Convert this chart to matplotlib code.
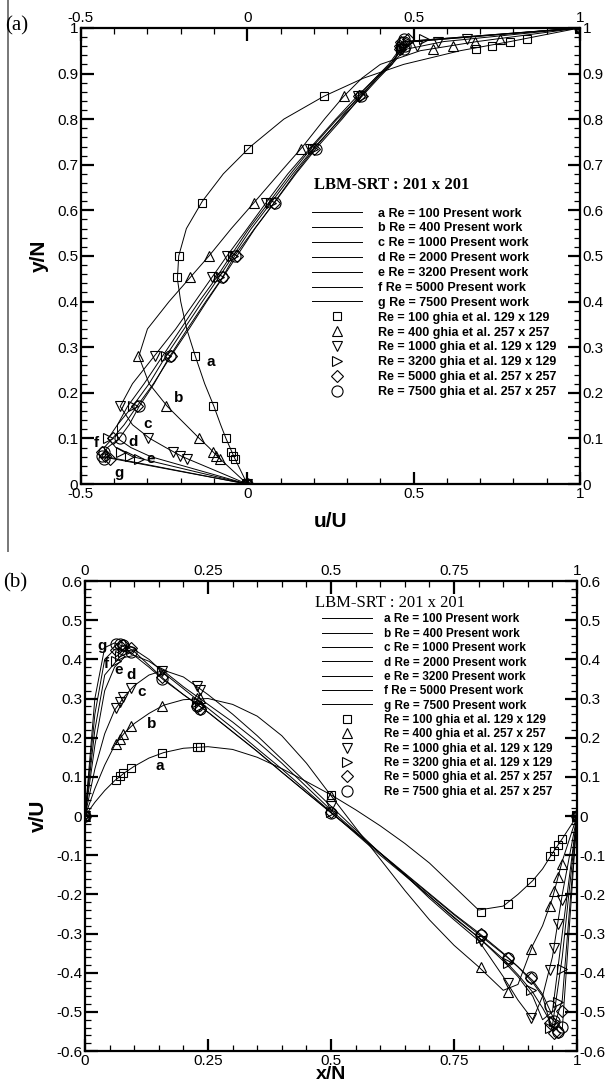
import matplotlib
matplotlib.use('Agg')
import matplotlib.pyplot as plt
from matplotlib.ticker import MultipleLocator, FuncFormatter
from matplotlib.lines import Line2D

plt.rcParams['font.family'] = ['Liberation Sans', 'DejaVu Sans']

# ---------------- data ----------------
line_tags = ['a', 'b', 'c', 'd', 'e', 'f', 'g']
line_re = ['100', '400', '1000', '2000', '3200', '5000', '7500']
ghia_re = ['100', '400', '1000', '3200', '5000', '7500']
ghia_grid = ['129 x 129', '257 x 257', '129 x 129', '129 x 129', '257 x 257', '257 x 257']

# (a) u along the vertical centre line, present work
y_line = [0.0, 0.06, 0.08, 0.10, 0.13, 0.17, 0.22, 0.28, 0.34, 0.40, 0.45, 0.50,
          0.56, 0.62, 0.68, 0.74, 0.80, 0.85, 0.89, 0.92, 0.95, 0.97, 1.0]
u_100 = [0, -0.040, -0.052, -0.064, -0.080, -0.100, -0.128, -0.156, -0.182, -0.200, -0.210, -0.206,
         -0.183, -0.135, -0.072, 0.010, 0.110, 0.230, 0.350, 0.470, 0.640, 0.790, 1.0]
u_400 = [0, -0.089, -0.115, -0.144, -0.185, -0.240, -0.295, -0.326, -0.300, -0.235, -0.175, -0.115,
         -0.048, 0.024, 0.095, 0.167, 0.232, 0.290, 0.345, 0.400, 0.520, 0.690, 1.0]
u_1000 = [0, -0.195, -0.245, -0.293, -0.345, -0.382, -0.345, -0.280, -0.215, -0.157, -0.109, -0.061,
          0.000, 0.060, 0.122, 0.193, 0.266, 0.330, 0.385, 0.425, 0.455, 0.590, 1.0]
u_2000 = [0, -0.290, -0.350, -0.390, -0.390, -0.360, -0.310, -0.255, -0.200, -0.145, -0.095, -0.050,
          0.005, 0.068, 0.130, 0.197, 0.270, 0.340, 0.390, 0.430, 0.460, 0.500, 1.0]
u_3200 = [0, -0.345, -0.395, -0.418, -0.390, -0.345, -0.295, -0.245, -0.190, -0.135, -0.088, -0.043,
          0.012, 0.075, 0.137, 0.204, 0.280, 0.345, 0.395, 0.435, 0.460, 0.500, 1.0]
u_5000 = [0, -0.425, -0.430, -0.405, -0.370, -0.332, -0.282, -0.230, -0.175, -0.122, -0.076, -0.031,
          0.023, 0.084, 0.143, 0.207, 0.278, 0.335, 0.385, 0.430, 0.460, 0.470, 1.0]
u_7500 = [0, -0.437, -0.420, -0.385, -0.355, -0.325, -0.280, -0.233, -0.180, -0.125, -0.077, -0.038,
          0.022, 0.085, 0.146, 0.212, 0.285, 0.342, 0.390, 0.435, 0.470, 0.472, 1.0]

# (a) ghia et al.
ghia_y = [1.0, 0.9766, 0.9688, 0.9609, 0.9531, 0.8516, 0.7344, 0.6172, 0.5, 0.4531,
          0.2813, 0.1719, 0.1016, 0.0703, 0.0625, 0.0547, 0.0]
gu_100 = [1.0, 0.84123, 0.78871, 0.73722, 0.68717, 0.23151, 0.00332, -0.13641, -0.20581, -0.21090,
          -0.15662, -0.10150, -0.06434, -0.04775, -0.04192, -0.03717, 0.0]
gu_400 = [1.0, 0.75837, 0.68439, 0.61756, 0.55892, 0.29093, 0.16256, 0.02135, -0.11477, -0.17119,
          -0.32726, -0.24299, -0.14612, -0.10338, -0.09266, -0.08186, 0.0]
gu_1000 = [1.0, 0.65928, 0.57492, 0.51117, 0.46604, 0.33304, 0.18719, 0.05702, -0.06080, -0.10648,
           -0.27805, -0.38289, -0.29730, -0.22220, -0.20196, -0.18109, 0.0]
gu_3200 = [1.0, 0.53236, 0.48296, 0.46547, 0.46101, 0.34682, 0.19791, 0.07156, -0.04272, -0.08636,
           -0.24427, -0.34323, -0.41933, -0.37827, -0.35344, -0.32407, 0.0]
gu_5000 = [1.0, 0.48223, 0.46120, 0.45992, 0.46036, 0.33556, 0.20087, 0.08183, -0.03039, -0.07404,
           -0.22855, -0.33050, -0.40435, -0.43643, -0.42901, -0.41165, 0.0]
gu_7500 = [1.0, 0.47244, 0.47048, 0.47323, 0.47167, 0.34228, 0.20591, 0.08342, -0.03800, -0.07503,
           -0.23176, -0.32393, -0.38324, -0.43025, -0.43590, -0.43154, 0.0]

# (b) v along the horizontal centre line, present work
x_line = [0.0, 0.02, 0.04, 0.06, 0.08, 0.10, 0.13, 0.16, 0.20, 0.25, 0.30, 0.35, 0.40, 0.45,
          0.50, 0.55, 0.60, 0.65, 0.70, 0.75, 0.80, 0.85, 0.88, 0.91, 0.93, 0.95, 0.97, 1.0]
v_100 = [0, 0.035, 0.065, 0.090, 0.110, 0.127, 0.148, 0.162, 0.173, 0.177, 0.170, 0.150, 0.121, 0.088,
         0.054, 0.016, -0.025, -0.070, -0.120, -0.180, -0.240, -0.230, -0.200, -0.165, -0.135, -0.095, -0.058, 0.0]
v_400 = [0, 0.070, 0.130, 0.180, 0.212, 0.236, 0.262, 0.283, 0.297, 0.300, 0.285, 0.255, 0.205, 0.135,
         0.052, -0.030, -0.110, -0.190, -0.265, -0.330, -0.385, -0.445, -0.430, -0.330, -0.280, -0.210, -0.115, 0.0]
v_1000 = [0, 0.120, 0.210, 0.270, 0.305, 0.333, 0.360, 0.372, 0.355, 0.310, 0.260, 0.205, 0.145, 0.085,
          0.025, -0.035, -0.095, -0.150, -0.210, -0.265, -0.318, -0.410, -0.470, -0.520, -0.460, -0.360, -0.200, 0.0]
v_2000 = [0, 0.180, 0.320, 0.380, 0.405, 0.410, 0.395, 0.370, 0.330, 0.285, 0.240, 0.190, 0.135, 0.075,
          0.015, -0.040, -0.095, -0.150, -0.205, -0.260, -0.310, -0.370, -0.410, -0.460, -0.520, -0.500, -0.300, 0.0]
v_3200 = [0, 0.220, 0.360, 0.390, 0.420, 0.425, 0.400, 0.365, 0.325, 0.275, 0.225, 0.172, 0.120, 0.065,
          0.010, -0.045, -0.100, -0.152, -0.205, -0.258, -0.310, -0.365, -0.405, -0.450, -0.490, -0.535, -0.360, 0.0]
v_5000 = [0, 0.260, 0.400, 0.425, 0.436, 0.420, 0.385, 0.350, 0.310, 0.265, 0.215, 0.165, 0.112, 0.060,
          0.009, -0.042, -0.094, -0.146, -0.198, -0.250, -0.298, -0.350, -0.385, -0.425, -0.460, -0.550, -0.470, 0.0]
v_7500 = [0, 0.300, 0.430, 0.442, 0.432, 0.410, 0.380, 0.347, 0.310, 0.265, 0.215, 0.165, 0.112, 0.060,
          0.008, -0.043, -0.095, -0.148, -0.200, -0.252, -0.302, -0.352, -0.385, -0.420, -0.455, -0.510, -0.545, 0.0]

# (b) ghia et al.
ghia_x = [1.0, 0.9688, 0.9609, 0.9531, 0.9453, 0.9063, 0.8594, 0.8047, 0.5, 0.2344,
          0.2266, 0.1563, 0.0938, 0.0781, 0.0703, 0.0625, 0.0]
gv_100 = [0, -0.05906, -0.07391, -0.08864, -0.10313, -0.16914, -0.22445, -0.24533, 0.05454, 0.17527,
          0.17507, 0.16077, 0.12317, 0.10890, 0.10091, 0.09233, 0]
gv_400 = [0, -0.12146, -0.15663, -0.19254, -0.22847, -0.33827, -0.44993, -0.38598, 0.05186, 0.30174,
          0.30203, 0.28124, 0.22965, 0.20920, 0.19713, 0.18360, 0]
gv_1000 = [0, -0.21388, -0.27669, -0.33714, -0.39188, -0.51550, -0.42665, -0.31966, 0.02526, 0.32235,
           0.33075, 0.37095, 0.32627, 0.30353, 0.29012, 0.27485, 0]
gv_3200 = [0, -0.39017, -0.47425, -0.52357, -0.54053, -0.44307, -0.37401, -0.31184, 0.00999, 0.28188,
           0.29030, 0.37119, 0.42768, 0.41906, 0.40917, 0.39560, 0]
gv_5000 = [0, -0.49774, -0.55069, -0.55408, -0.52876, -0.41442, -0.36214, -0.30018, 0.00945, 0.27280,
           0.28066, 0.35368, 0.42951, 0.43648, 0.43329, 0.42447, 0]
gv_7500 = [0, -0.53858, -0.55216, -0.52347, -0.48590, -0.41050, -0.36213, -0.30448, 0.00824, 0.27348,
           0.28117, 0.35060, 0.41824, 0.43564, 0.44030, 0.43979, 0]

# curve-label positions (data coords)
tag_pos_a = [(-0.111, 0.268), (-0.207, 0.189), (-0.300, 0.132), (-0.343, 0.092),
             (-0.290, 0.055), (-0.453, 0.090), (-0.387, 0.024)]
tag_pos_b = [(0.152, 0.127), (0.136, 0.234), (0.115, 0.316), (0.093, 0.361),
             (0.068, 0.374), (0.043, 0.387), (0.034, 0.433)]

u_lines = [u_100, u_400, u_1000, u_2000, u_3200, u_5000, u_7500]
v_lines = [v_100, v_400, v_1000, v_2000, v_3200, v_5000, v_7500]
gu_all = [gu_100, gu_400, gu_1000, gu_3200, gu_5000, gu_7500]
gv_all = [gv_100, gv_400, gv_1000, gv_3200, gv_5000, gv_7500]

# ---------------- styles ----------------
markers = ['s', '^', 'v', '>', 'D', 'o']
msizes = [6, 7, 7, 7, 6, 8]


def fmt(v, pos):
    v = round(v, 3) + 0.0
    return '%g' % v


def style_axes(ax, xmaj, xmin, ymaj, ymin):
    ax.xaxis.set_major_locator(MultipleLocator(xmaj))
    ax.xaxis.set_minor_locator(MultipleLocator(xmin))
    ax.yaxis.set_major_locator(MultipleLocator(ymaj))
    ax.yaxis.set_minor_locator(MultipleLocator(ymin))
    ax.xaxis.set_major_formatter(FuncFormatter(fmt))
    ax.yaxis.set_major_formatter(FuncFormatter(fmt))
    ax.tick_params(which='both', direction='in', top=True, right=True,
                   labeltop=True, labelright=True, labelsize=11, pad=2)
    ax.tick_params(which='major', length=9, width=1.6)
    ax.tick_params(which='minor', length=4.5, width=0.9)
    for s in ax.spines.values():
        s.set_linewidth(1.6)


def draw_panel(ax, xs_line, ys_line, gx, gy, swap, tag_pos):
    handles = []
    for i, tag in enumerate(line_tags):
        if swap:
            l, = ax.plot(ys_line[i], xs_line, color='black', lw=0.7)
        else:
            l, = ax.plot(xs_line, ys_line[i], color='black', lw=0.7)
        l.set_label('%s Re = %s Present work' % (tag, line_re[i]))
        handles.append(l)
    for i in range(len(ghia_re)):
        if swap:
            m, = ax.plot(gy[i], gx, ls='none', marker=markers[i], ms=msizes[i],
                         mfc='none', mec='black', mew=0.8)
        else:
            m, = ax.plot(gx, gy[i], ls='none', marker=markers[i], ms=msizes[i],
                         mfc='none', mec='black', mew=0.8)
        m.set_label('Re = %s ghia et al. %s' % (ghia_re[i], ghia_grid[i]))
        handles.append(m)
    for tag, (tx, ty) in zip(line_tags, tag_pos):
        ax.text(tx, ty, tag, fontsize=11, fontweight='bold', ha='center', va='center')
    return handles


fig = plt.figure(figsize=(6.13, 10.86), dpi=100)

# ---- panel (a)
ax1 = fig.add_axes([0.132, 0.5543, 0.814, 0.420])
h1 = draw_panel(ax1, y_line, u_lines, ghia_y, gu_all, True, tag_pos_a)
ax1.set_xlim(-0.5, 1)
ax1.set_ylim(0, 1)
style_axes(ax1, 0.5, 0.1, 0.1, 0.02)
ax1.set_xlabel('u/U', fontsize=15, fontweight='bold', labelpad=8)
ax1.set_ylabel('y/N', fontsize=15, fontweight='bold', labelpad=6)
ax1.text(0.468, 0.655, 'LBM-SRT : 201 x 201', transform=ax1.transAxes, va='center',
         family='Liberation Serif', fontweight='bold', fontsize=12)
ax1.legend(handles=h1, loc='upper left', bbox_to_anchor=(0.463, 0.606), frameon=False,
           prop={'family': 'Liberation Sans', 'weight': 'bold', 'size': 9},
           numpoints=1, handlelength=4.0, handletextpad=1.3,
           labelspacing=0.23, borderpad=0, borderaxespad=0)

# ---- panel (b)
ax2 = fig.add_axes([0.1387, 0.0322, 0.8026, 0.4328])
h2 = draw_panel(ax2, x_line, v_lines, ghia_x, gv_all, False, tag_pos_b)
ax2.set_xlim(0, 1)
ax2.set_ylim(-0.6, 0.6)
style_axes(ax2, 0.25, 0.05, 0.1, 0.02)
ax2.set_xlabel('x/N', fontsize=14, fontweight='bold', labelpad=-1)
ax2.set_ylabel('v/U', fontsize=15, fontweight='bold', labelpad=6)
ax2.text(0.467, 0.954, 'LBM-SRT : 201 x 201', transform=ax2.transAxes, va='center',
         family='Liberation Serif', fontsize=12)
ax2.legend(handles=h2, loc='upper left', bbox_to_anchor=(0.482, 0.931), frameon=False,
           prop={'family': 'Liberation Sans', 'weight': 'bold', 'size': 8.5},
           numpoints=1, handlelength=4.2, handletextpad=1.0,
           labelspacing=0.2, borderpad=0, borderaxespad=0)

fig.text(0.008, 0.985, '(a)', fontsize=15, family='Liberation Serif', va='top')
fig.text(0.005, 0.472, '(b)', fontsize=15, family='Liberation Serif', va='top')
fig.add_artist(Line2D([0.013, 0.013], [0.493, 1.0], color='#777777', lw=1.4))

fig.savefig('out.png', dpi=100)
